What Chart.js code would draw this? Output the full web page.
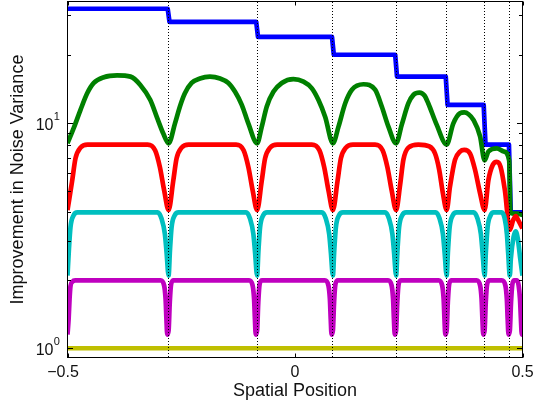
<!DOCTYPE html>
<html>
<head>
<meta charset="utf-8">
<script src="https://cdn.jsdelivr.net/npm/chart.js@4/dist/chart.umd.min.js"></script>
<style>
  html, body { margin: 0; padding: 0; background: #fff; }
  #wrap { width: 533px; height: 406px; }
</style>
</head>
<body>
<div id="wrap"><canvas id="chart" width="533" height="406"></canvas></div>
<script>
// ===== データ =====
// partition edges (dotted verticals)
const edges = [-0.2778, -0.0833, 0.0833, 0.2222, 0.3333, 0.4167, 0.4722];

const xTickValues = [-0.5, 0, 0.5];
// figure space after −0.5 keeps the label centred on its digits
const xTickLabels = ["\u22120.5\u2007", "0", "0.5"];
const yTickValues = [1, 2, 3, 4, 5, 6, 7, 8, 9, 10, 20, 30];
const yLabelValues = [1, 10];
const yLabelExponents = ["0", "1"];

const blueX = [-0.5, -0.2798, -0.2758, -0.0853, -0.0813, 0.0813, 0.0853, 0.2202, 0.2242,
  0.3313, 0.3353, 0.4147, 0.4187, 0.4702, 0.4742, 0.5];
const blueY = [32, 32, 28, 28, 24, 24, 20, 20, 16, 16, 12, 12, 8, 8, 4, 4];

const greenX = [
  -0.5, -0.486, -0.4714, -0.4567, -0.4422, -0.42, -0.391, -0.3615, -0.34, -0.318, -0.303, -0.289, -0.2778,
  -0.2639, -0.2529, -0.242, -0.2272, -0.2089, -0.187, -0.1647, -0.1464, -0.1317, -0.117, -0.1024, -0.0833,
  -0.073, -0.062, -0.0475, -0.029, -0.0035, 0.0187, 0.0371, 0.0516, 0.0664, 0.0833,
  0.0956, 0.1104, 0.1251, 0.1506, 0.176, 0.1907, 0.2053, 0.2222,
  0.2347, 0.2493, 0.2605, 0.2735, 0.2845, 0.2928, 0.3113, 0.3333,
  0.3478, 0.3626, 0.372, 0.3815, 0.3921, 0.4068, 0.4167,
  0.4251, 0.4435, 0.459, 0.4707, 0.4735,
  0.48, 0.49, 0.5];
const greenY = [
  8.1, 9.5, 11.4, 13.5, 15.0, 15.9, 16.2, 16.0, 14.7, 12.6, 10.5, 8.9, 8.1,
  9.9, 11.8, 13.5, 15.0, 15.7, 16.0, 15.7, 15.0, 13.7, 12.0, 9.9, 8.1,
  9.6, 11.8, 13.7, 15.0, 15.6, 15.2, 14.2, 12.6, 10.6, 8.1,
  9.6, 12.2, 14.0, 14.8, 14.0, 11.8, 9.6, 8.1,
  9.8, 12.2, 13.3, 13.6, 13.2, 12.2, 9.8, 8.0,
  9.9, 11.0, 11.1, 10.9, 10.3, 8.7, 6.8,
  7.45, 7.7, 7.45, 6.8, 4.0,
  3.95, 3.95, 3.9];

const redX = [
  -0.5, -0.4899, -0.4824, -0.4714, -0.456, -0.324, -0.3075, -0.2969, -0.2875, -0.2778,
  -0.2677, -0.2602, -0.2492, -0.2338, -0.1295, -0.113, -0.1024, -0.093, -0.0833,
  -0.0732, -0.0657, -0.0547, -0.0393, 0.0371, 0.0536, 0.0642, 0.0736, 0.0833,
  0.0934, 0.1009, 0.1119, 0.1273, 0.176, 0.1925, 0.2031, 0.2125, 0.2222,
  0.231, 0.2382, 0.2492, 0.2712, 0.2953, 0.3078, 0.3168, 0.3248, 0.3333,
  0.3406, 0.3516, 0.3626, 0.372, 0.3848, 0.3958, 0.4068, 0.4167,
  0.4251, 0.4347, 0.4435, 0.4517, 0.4612, 0.4722,
  0.4795, 0.4854, 0.4905, 0.5];
const redY = [
  4.1, 5.5, 6.95, 7.75, 8.0, 8.0, 7.55, 6.35, 5.0, 4.1,
  5.5, 6.95, 7.75, 8.0, 8.0, 7.55, 6.35, 5.0, 4.1,
  5.5, 6.95, 7.75, 8.0, 8.0, 7.55, 6.35, 5.0, 4.1,
  5.5, 6.95, 7.75, 8.0, 8.0, 7.55, 6.35, 5.0, 4.1,
  5.3, 6.85, 7.75, 8.0, 7.85, 7.3, 6.2, 4.9, 4.1,
  5.2, 6.84, 7.44, 7.57, 7.3, 6.17, 4.86, 4.1,
  5.57, 6.5, 6.7, 6.38, 5.03, 3.35,
  3.7, 3.85, 3.7, 3.4];

const cyanX = [
  -0.5, -0.4971, -0.4934, -0.4868, -0.478, -0.302, -0.2932, -0.2859, -0.2822, -0.2778,
  -0.2749, -0.2712, -0.2646, -0.2558, -0.1075, -0.0987, -0.0914, -0.0877, -0.0833,
  -0.0804, -0.0767, -0.0701, -0.0613, 0.0591, 0.0679, 0.0752, 0.0789, 0.0833,
  0.0862, 0.0899, 0.0965, 0.1053, 0.198, 0.2068, 0.2141, 0.2178, 0.2222,
  0.2251, 0.2288, 0.2354, 0.2442, 0.3091, 0.3179, 0.3252, 0.3289, 0.3333,
  0.3362, 0.3399, 0.3465, 0.3553, 0.3925, 0.4013, 0.4086, 0.4123, 0.4167,
  0.4196, 0.4233, 0.4299, 0.4365, 0.4546, 0.461, 0.4658, 0.4685, 0.4722,
  0.4744, 0.4805, 0.485, 0.4898, 0.495, 0.5];
const cyanY = [
  2.1, 2.7, 3.45, 3.88, 4.0, 4.0, 3.75, 3.2, 2.65, 2.1,
  2.7, 3.45, 3.88, 4.0, 4.0, 3.75, 3.2, 2.65, 2.1,
  2.7, 3.45, 3.88, 4.0, 4.0, 3.75, 3.2, 2.65, 2.1,
  2.7, 3.45, 3.88, 4.0, 4.0, 3.75, 3.2, 2.65, 2.1,
  2.7, 3.45, 3.88, 4.0, 4.0, 3.75, 3.2, 2.65, 2.1,
  2.7, 3.45, 3.88, 4.0, 4.0, 3.75, 3.2, 2.65, 2.1,
  2.7, 3.45, 3.88, 4.0, 4.0, 3.75, 3.2, 2.65, 2.1,
  2.5, 3.12, 3.3, 3.05, 2.5, 2.1];

const magentaX = [
  -0.5, -0.4975, -0.4955, -0.4935, -0.4895, -0.483,
  -0.2954, -0.2877, -0.2844, -0.2826, -0.2807, -0.2778, -0.2752, -0.2723, -0.2668,
  -0.1009, -0.0932, -0.0899, -0.0881, -0.0862, -0.0833, -0.0807, -0.0778, -0.0723,
  0.0657, 0.0734, 0.0767, 0.0785, 0.0804, 0.0833, 0.0859, 0.0888, 0.0943,
  0.2046, 0.2123, 0.2156, 0.2174, 0.2193, 0.2222, 0.2248, 0.2277, 0.2332,
  0.3157, 0.3234, 0.3267, 0.3285, 0.3304, 0.3333, 0.3359, 0.3388, 0.3443,
  0.3991, 0.4068, 0.4101, 0.4119, 0.4138, 0.4167, 0.4193, 0.4222, 0.4277,
  0.4546, 0.4623, 0.4656, 0.4674, 0.4693, 0.4722, 0.4748, 0.4777, 0.482,
  0.488, 0.4915, 0.4945, 0.4965, 0.4985, 0.5];
const magentaY = [
  1.15, 1.35, 1.65, 1.88, 1.97, 2.0,
  2.0, 1.9, 1.65, 1.35, 1.15, 1.2, 1.6, 1.92, 2.0,
  2.0, 1.9, 1.65, 1.35, 1.15, 1.2, 1.6, 1.92, 2.0,
  2.0, 1.9, 1.65, 1.35, 1.15, 1.2, 1.6, 1.92, 2.0,
  2.0, 1.9, 1.65, 1.35, 1.15, 1.2, 1.6, 1.92, 2.0,
  2.0, 1.9, 1.65, 1.35, 1.15, 1.2, 1.6, 1.92, 2.0,
  2.0, 1.9, 1.65, 1.35, 1.15, 1.2, 1.6, 1.92, 2.0,
  2.0, 1.9, 1.65, 1.35, 1.15, 1.2, 1.6, 1.92, 2.0,
  2.0, 1.9, 1.65, 1.35, 1.15, 1.15];

const yellowX = [-0.5, 0.5];
const yellowY = [1, 1];

// ===== 描画 =====
const FONT = "'Liberation Sans', Arial, Helvetica, sans-serif";
const TEXT = "#111";

function pts(xs, ys) {
  return xs.map((x, i) => ({ x, y: ys[i] }));
}

function line(xs, ys, color, order, smooth) {
  return {
    data: pts(xs, ys),
    borderColor: color,
    borderWidth: 4.7,
    borderJoinStyle: "round",
    pointRadius: 0,
    fill: false,
    order,
    cubicInterpolationMode: smooth ? "monotone" : "default",
    tension: 0
  };
}

// axes box, inward ticks, partition lines, 10^n labels
const axesBox = {
  id: "axesBox",
  afterDatasetsDraw(chart) {
    const { ctx, chartArea: a, scales: { x, y } } = chart;
    ctx.save();

    ctx.strokeStyle = "#000";
    ctx.lineWidth = 1;
    ctx.setLineDash([1, 2]);
    const y0 = Math.floor(a.bottom);
    const y1 = Math.ceil(a.top);
    edges.forEach(e => {
      const px = Math.floor(x.getPixelForValue(e)) + 0.5;
      ctx.beginPath();
      ctx.moveTo(px, y0);
      ctx.lineTo(px, y1);
      ctx.stroke();
    });
    ctx.setLineDash([]);

    ctx.strokeRect(a.left, a.top, a.right - a.left, a.bottom - a.top);

    ctx.beginPath();
    yTickValues.forEach(v => {
      const py = Math.round(y.getPixelForValue(v)) + 0.5;
      const len = yLabelValues.includes(v) ? 5.5 : 3.5;
      ctx.moveTo(a.left, py); ctx.lineTo(a.left + len, py);
      ctx.moveTo(a.right, py); ctx.lineTo(a.right - len, py);
    });
    xTickValues.forEach(v => {
      const px = Math.round(x.getPixelForValue(v)) + 0.5;
      ctx.moveTo(px, a.bottom); ctx.lineTo(px, a.bottom - 4);
      ctx.moveTo(px, a.top); ctx.lineTo(px, a.top + 4);
    });
    ctx.stroke();

    ctx.fillStyle = TEXT;
    ctx.textBaseline = "alphabetic";
    yLabelValues.forEach((v, i) => {
      const py = y.getPixelForValue(v);
      ctx.font = "16px " + FONT;
      ctx.textAlign = "right";
      ctx.fillText("10", 53.5, py + 7);
      ctx.font = "11px " + FONT;
      ctx.textAlign = "left";
      ctx.fillText(yLabelExponents[i], 53.8, py - 3);
    });
    ctx.restore();
  }
};

new Chart(document.getElementById("chart"), {
  type: "line",
  data: {
    datasets: [
      line(yellowX, yellowY, "#bfbf00", 1, false),
      line(magentaX, magentaY, "#bf00bf", 2, true),
      line(cyanX, cyanY, "#00bfbf", 3, true),
      line(redX, redY, "#ff0000", 4, true),
      line(greenX, greenY, "#008000", 5, true),
      line(blueX, blueY, "#0000ff", 6, false)
    ]
  },
  options: {
    responsive: false,
    animation: false,
    devicePixelRatio: 1,
    layout: { padding: { left: 0, right: 10.5, top: 1.5, bottom: 0 } },
    plugins: { legend: { display: false }, tooltip: { enabled: false } },
    scales: {
      x: {
        type: "linear",
        min: -0.5,
        max: 0.5,
        grid: { display: false, drawTicks: false },
        border: { display: false },
        afterBuildTicks: s => { s.ticks = xTickValues.map(v => ({ value: v })); },
        ticks: {
          padding: 5,
          maxRotation: 0,
          color: TEXT,
          font: { family: FONT, size: 16 },
          callback: (v, i) => xTickLabels[i]
        },
        title: {
          display: true,
          text: "Spatial Position",
          color: TEXT,
          font: { family: FONT, size: 18 },
          padding: { top: 0, bottom: 4 }
        },
        afterFit: s => { s.height = 48.5; s.paddingLeft = 0; s.paddingRight = 0; }
      },
      y: {
        type: "logarithmic",
        min: 0.91,
        max: 34.45,
        grid: { display: false, drawTicks: false },
        border: { display: false },
        ticks: { display: false },
        title: {
          display: true,
          text: "Improvement in Noise Variance",
          color: TEXT,
          font: { family: FONT, size: 18 },
          padding: { top: 7, bottom: 0 }
        },
        afterFit: s => { s.width = 67.5; s.paddingTop = 0; s.paddingBottom = 0; }
      }
    }
  },
  plugins: [axesBox]
});
</script>
</body>
</html>
